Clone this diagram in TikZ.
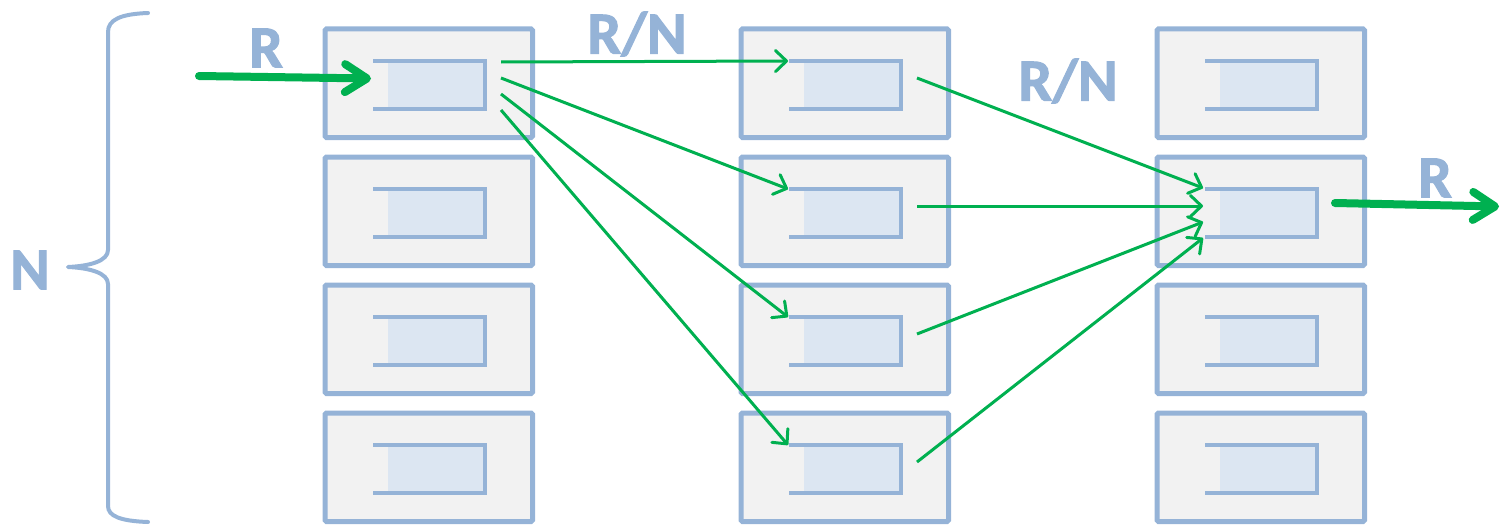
\documentclass[tikz,border=0pt]{standalone}
\usepackage{fontspec}
\setmainfont{Carlito}[BoldFeatures={FakeBold=1.8}]
\usetikzlibrary{arrows.meta,calc}
\definecolor{bluegray}{HTML}{95B3D7}
\definecolor{boxfill}{HTML}{F2F2F2}
\definecolor{innerfill}{HTML}{DCE6F2}
\definecolor{arrgreen}{HTML}{00B050}
\tikzset{
  outerbox/.style={draw=bluegray,fill=boxfill,line width=5pt,rounded corners=1.5pt,
    minimum width=207.5pt,minimum height=108.5pt,inner sep=0pt},
  innerline/.style={draw=bluegray,line width=3.5pt},
  thinarrow/.style={draw=arrgreen,line width=3pt,
    -{Straight Barb[length=11pt,width=21pt,round]}},
  thickarrow/.style={draw=arrgreen,line width=8pt,line cap=round,
    -{Straight Barb[length=22pt,width=28pt,round]}},
  lab/.style={text=bluegray,font=\fontsize{60}{60}\selectfont\bfseries,inner sep=0pt},
  bracestyle/.style={draw=bluegray,line width=4pt,line cap=round,line join=round}
}
\begin{document}
\begin{tikzpicture}[x=1pt,y=-1pt]
\useasboundingbox (0,0) rectangle (1503,527);
\foreach \c/\x in {1/325,2/741,3/1157}{
  \foreach \r/\y in {1/29,2/157,3/285,4/413}{
    \node[outerbox] (b-\c-\r) at (\x+103.75,\y+54.25) {};
    \fill[innerfill] (\x+63,\y+32) rectangle (\x+160,\y+80);
    \draw[innerline] (\x+48,\y+32) -- (\x+160,\y+32) -- (\x+160,\y+80) -- (\x+48,\y+80);
    \coordinate (in-\c-\r) at (\x+47,\y+32);
  }
}
% start points from column 1 row 1
\coordinate (s1a) at (501,62);
\coordinate (s1b) at (501,78);
\coordinate (s1c) at (501,94);
\coordinate (s1d) at (501,110);
% start points from column 2
\coordinate (s2a) at (917,78);
\coordinate (s2b) at (917,206);
\coordinate (s2c) at (917,334);
\coordinate (s2d) at (917,462);
% end points at column 3 row 2
\coordinate (e3a) at (1203,188);
\coordinate (e3b) at (1203,206);
\coordinate (e3c) at (1203,222);
\coordinate (e3d) at (1203,238);
% input / output
\coordinate (inS) at (199,76);
\coordinate (inE) at (371,78.5);
\coordinate (outS) at (1335,203);
\coordinate (outE) at (1499,206.5);

\draw[thickarrow] (inS) -- (inE);
\draw[thickarrow] (outS) -- (outE);

\draw[thinarrow] (s1a) -- (in-2-1);
\draw[thinarrow] (s1b) -- (in-2-2);
\draw[thinarrow] (s1c) -- (in-2-3);
\draw[thinarrow] (s1d) -- (in-2-4);

\draw[thinarrow] (s2a) -- (e3a);
\draw[thinarrow] (s2b) -- (e3b);
\draw[thinarrow] (s2c) -- (e3c);
\draw[thinarrow] (s2d) -- (e3d);

% brace
\draw[bracestyle] (148,13) .. controls (120,14) and (108,20) .. (108,32) -- (108,250)
  .. controls (108,261) and (90,266) .. (68,267)
  .. controls (90,268) and (108,273) .. (108,284) -- (108,506)
  .. controls (108,516) and (120,521) .. (148,522);

\node[lab] (lN) at (30,270) {N};
\node[lab] (lR1) at (266,48) {R};
\node[lab] (lRN1) at (637,34) {R/N};
\node[lab] (lRN2) at (1068,81) {R/N};
\node[lab] (lR2) at (1435,178) {R};
\end{tikzpicture}
\end{document}
